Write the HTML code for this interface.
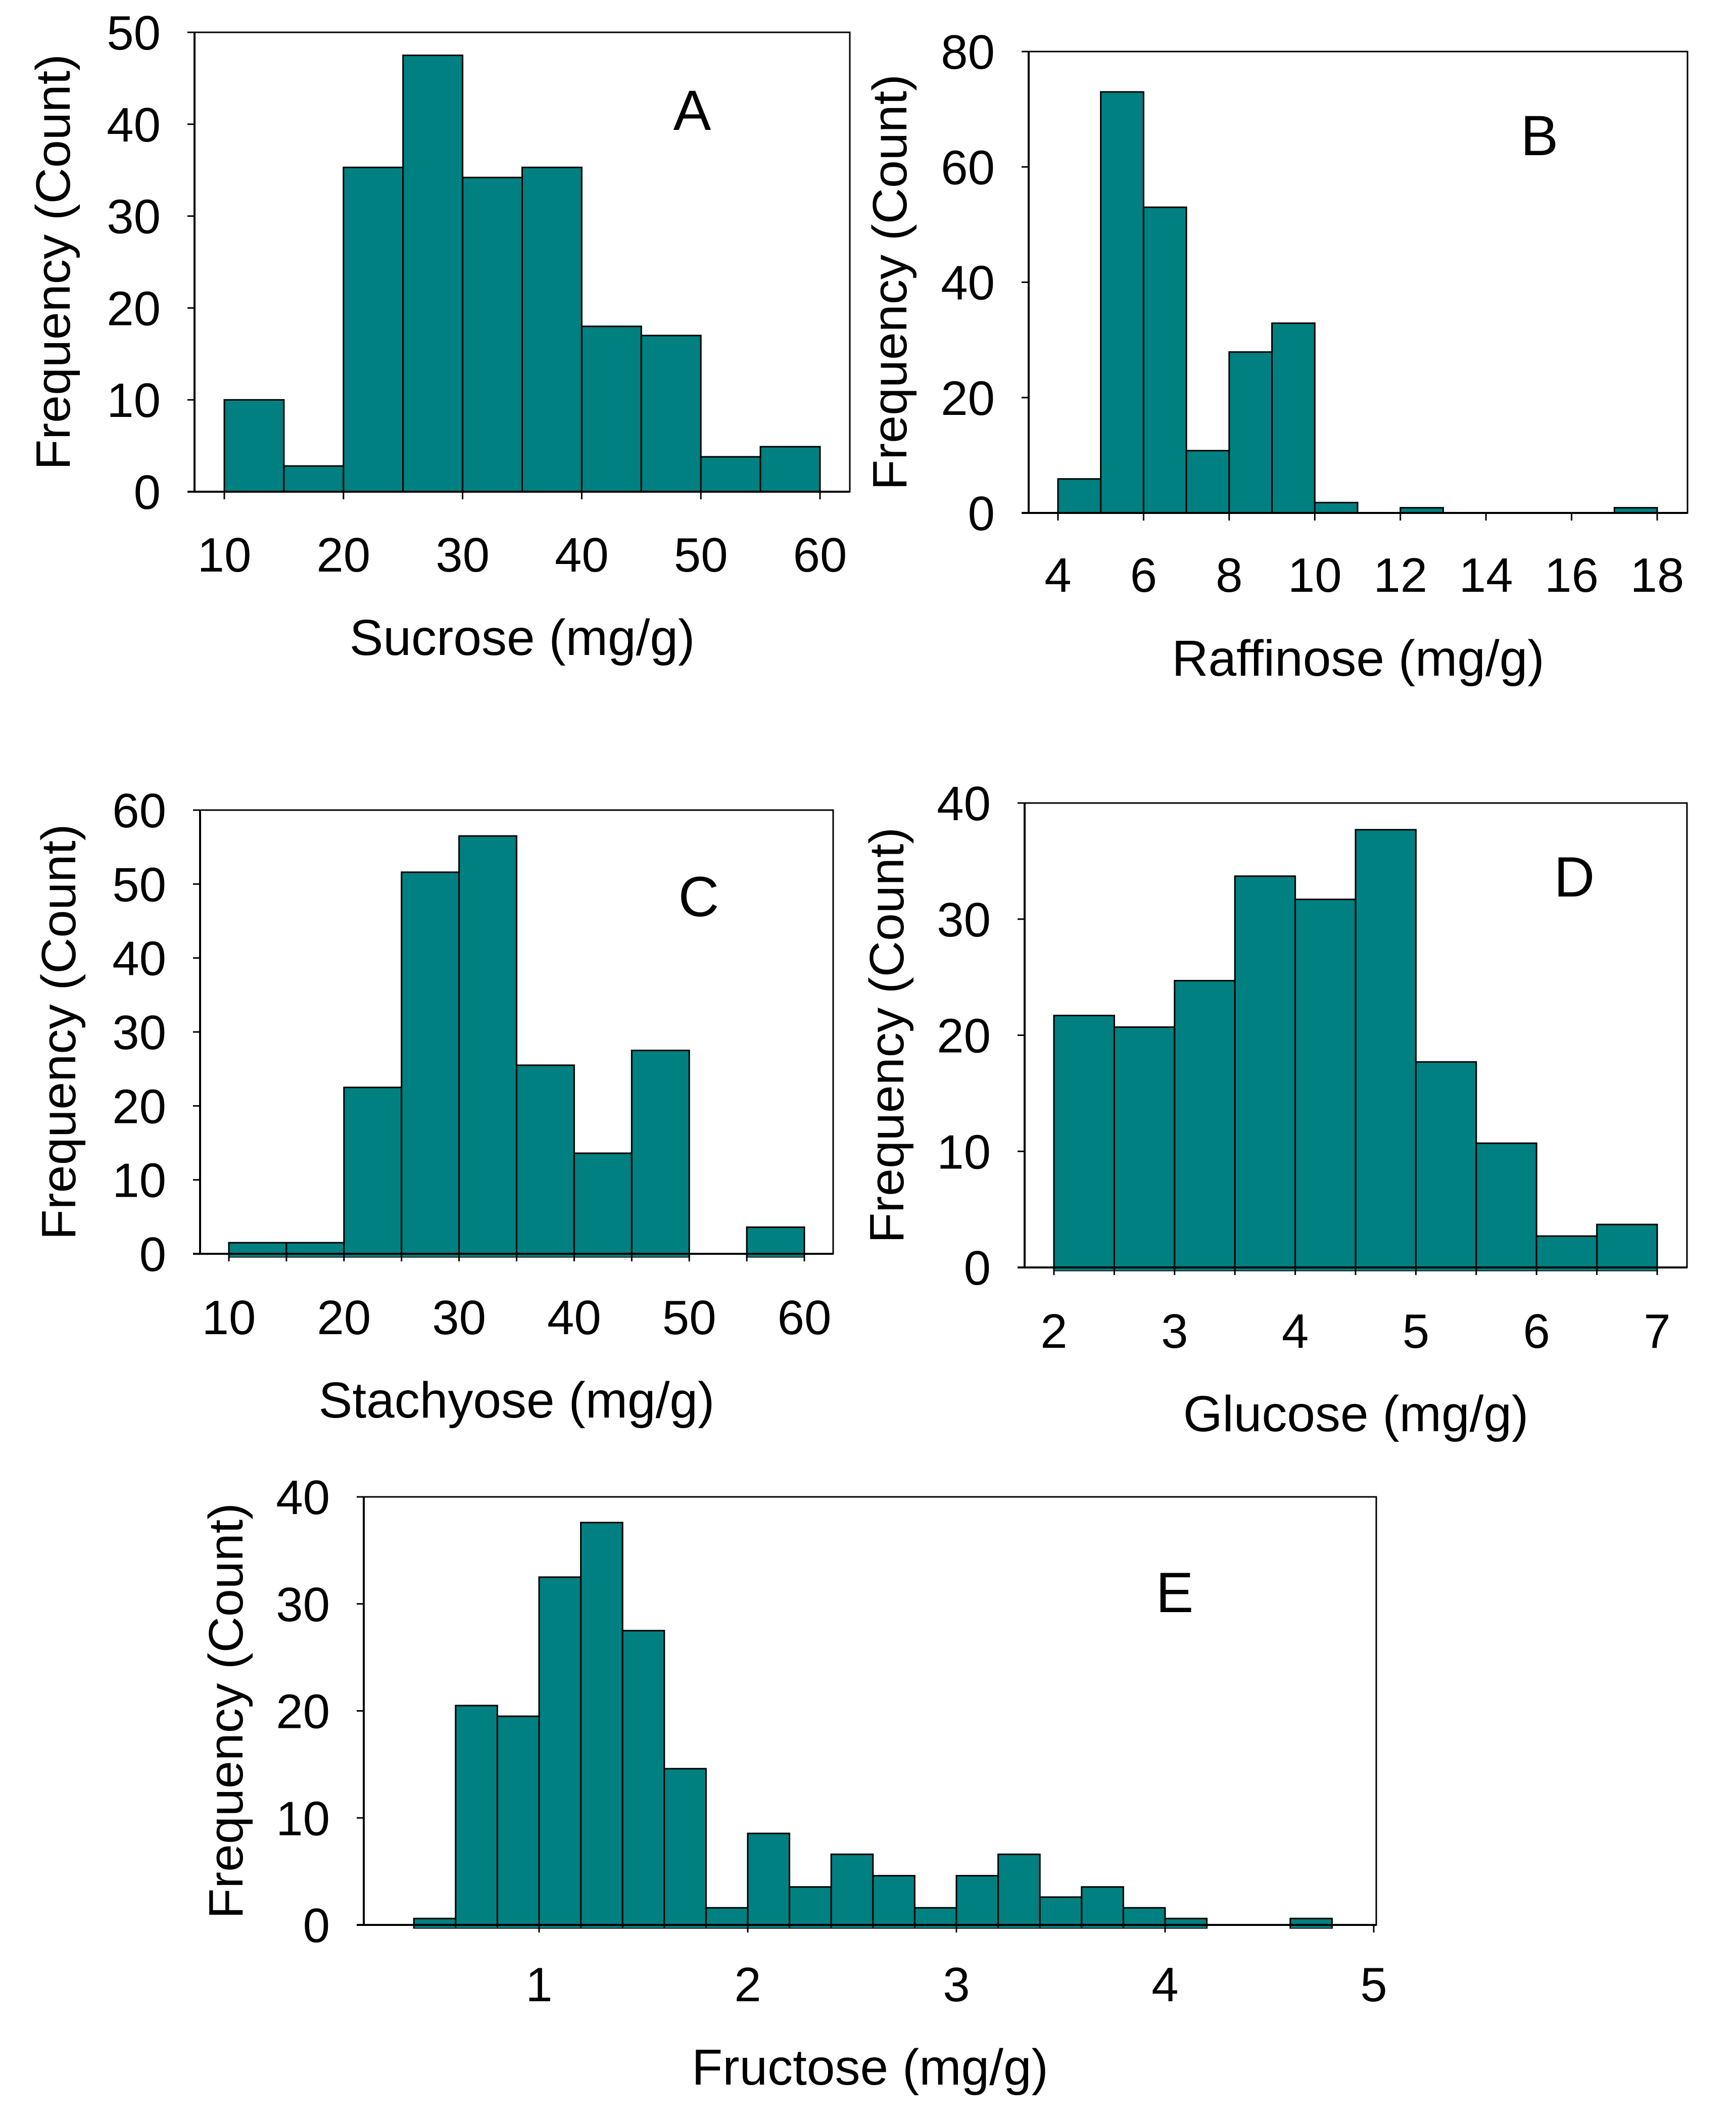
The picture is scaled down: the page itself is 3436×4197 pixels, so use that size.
<!DOCTYPE html>
<html><head><meta charset="utf-8"><title>Sugar histograms</title>
<style>
html,body{margin:0;padding:0;background:#fff;}
svg{display:block;}
text{font-family:"Liberation Sans",Arial,sans-serif;fill:#000;}
</style></head>
<body>
<svg id="fig" width="3436" height="4197" viewBox="0 0 3436 4197" xmlns="http://www.w3.org/2000/svg"></svg>
<script>
// Panel A: Sucrose
const sucroseBinStarts = [10,15,20,25,30,35,40,45,50,55];
const sucroseCounts = [10,2.8,35.3,47.5,34.2,35.3,18,17,3.8,4.9];
const sucroseXTicks = [10,20,30,40,50,60];
const sucroseYTicks = [0,10,20,30,40,50];
// Panel B: Raffinose
const raffinoseBinStarts = [4,5,6,7,8,9,10,11,12,13,14,15,16,17];
const raffinoseCounts = [5.9,73,53,10.8,27.9,32.9,1.8,0,0.9,0,0,0,0,0.9];
const raffinoseXTicks = [4,6,8,10,12,14,16,18];
const raffinoseYTicks = [0,20,40,60,80];
// Panel C: Stachyose
const stachyoseBinStarts = [10,15,20,25,30,35,40,45,50,55];
const stachyoseCounts = [1.5,1.5,22.5,51.6,56.5,25.5,13.6,27.5,0,3.6];
const stachyoseXTicks = [10,20,30,40,50,60];
const stachyoseYTicks = [0,10,20,30,40,50,60];
// Panel D: Glucose
const glucoseBinStarts = [2,2.5,3,3.5,4,4.5,5,5.5,6,6.5];
const glucoseCounts = [21.7,20.7,24.7,33.7,31.7,37.7,17.7,10.7,2.7,3.7];
const glucoseXTicks = [2,3,4,5,6,7];
const glucoseYTicks = [0,10,20,30,40];
// Panel E: Fructose
const fructoseBinStarts = [0.4,0.6,0.8,1.0,1.2,1.4,1.6,1.8,2.0,2.2,2.4,2.6,2.8,3.0,3.2,3.4,3.6,3.8,4.0,4.2,4.4,4.6];
const fructoseCounts = [0.6,20.5,19.5,32.5,37.6,27.5,14.6,1.6,8.55,3.55,6.6,4.6,1.6,4.6,6.6,2.6,3.55,1.6,0.6,0,0,0.6];
const fructoseXTicks = [1,2,3,4,5];
const fructoseYTicks = [0,10,20,30,40];

const NS = "http://www.w3.org/2000/svg";
const fig = document.getElementById('fig');
function mk(tag, attrs, parent){
  const e = document.createElementNS(NS, tag);
  for (const k in attrs) e.setAttribute(k, attrs[k]);
  parent.appendChild(e);
  return e;
}

function panel(cfg, binStarts, counts, binW, xTicks, yTicks){
  const g = mk('g', {}, fig);
  
  
  const xs = v => cfg.x0px + (v - cfg.x0) * (cfg.x1px - cfg.x0px) / (cfg.x1 - cfg.x0);
  const ys = v => cfg.bottom - v * (cfg.bottom - cfg.top) / cfg.ymax;
  const frame = mk('rect', {x:cfg.left, y:cfg.top, width:cfg.right-cfg.left, height:cfg.bottom-cfg.top, fill:'none', stroke:'#000', 'stroke-width':3}, g);
  
  
  for (let i = 0; i < counts.length; i++){
    if (counts[i] <= 0) continue;
    const x = xs(binStarts[i]), x2 = xs(binStarts[i] + binW);
    const y = ys(counts[i]);
    const b = mk('rect', {x:x, y:y, width:x2-x, height:cfg.bottom - y + cfg.under, fill:'#008080', stroke:'#000', 'stroke-width':3}, g);
    
    
  }
  if (cfg.under > 0){
    for (let i = 0; i < counts.length; i++){
      if (counts[i] <= 0) continue;
      const x = xs(binStarts[i]), x2 = xs(binStarts[i] + binW);
      const s = mk('rect', {x:x+1.5, y:cfg.bottom, width:x2-x-3, height:cfg.under, fill:'#008080'}, g);
      
      
    }
  }
  const ax = mk('line', {x1:cfg.left-14, y1:cfg.bottom, x2:cfg.right, y2:cfg.bottom, stroke:'#000', 'stroke-width':4}, g);
  
  
  const ay = mk('line', {x1:cfg.left, y1:cfg.top, x2:cfg.left, y2:cfg.bottom, stroke:'#000', 'stroke-width':4}, g);
  
  
  const tickPos = cfg.edgeTicks ? binStarts.concat([binStarts[binStarts.length-1] + binW]) : xTicks;
  for (const e of tickPos){
    const t = mk('line', {x1:xs(e), y1:cfg.bottom, x2:xs(e), y2:cfg.bottom+15, stroke:'#000', 'stroke-width':3}, g);
    
    
  }
  for (const v of xTicks){
    const t = mk('text', {x:xs(v), y:cfg.tickBase, 'font-size':96, 'text-anchor':'middle'}, g);
    t.textContent = String(v);
    
    
  }
  for (const v of yTicks){
    const t = mk('line', {x1:cfg.left-14, y1:ys(v), x2:cfg.left, y2:ys(v), stroke:'#000', 'stroke-width':3}, g);
    
    
    const l = mk('text', {x:cfg.left-67, y:ys(v)+34, 'font-size':96, 'text-anchor':'end'}, g);
    l.textContent = String(v);
    
    
  }
  const xt = mk('text', {x:(cfg.left+cfg.right)/2, y:cfg.titleBase, 'font-size':100, 'text-anchor':'middle'}, g);
  xt.textContent = cfg.xTitle;
  
  
  const cy = (cfg.top + cfg.bottom)/2;
  const yt = mk('text', {x:cfg.yTitleX, y:cy, 'font-size':96, 'text-anchor':'middle', transform:'rotate(-90 '+cfg.yTitleX+' '+cy+')', textLength:823, lengthAdjust:'spacingAndGlyphs', dy:34}, g);
  yt.textContent = 'Frequency (Count)';
  
  
  const pl = mk('text', {x:cfg.letterX, y:cfg.letterY, 'font-size':112, 'text-anchor':'middle'}, g);
  pl.textContent = cfg.letter;
  
  
}

panel({id:'sucrose', left:385, right:1682, top:64, bottom:973, x0:10, x1:60, x0px:444, x1px:1623, ymax:50, edgeTicks:false,
  tickBase:1131, titleBase:1296, xTitle:'Sucrose (mg/g)', yTitleX:104, letter:'A', letterX:1370, letterY:257, under:0},
  sucroseBinStarts, sucroseCounts, 5, sucroseXTicks, sucroseYTicks);
panel({id:'raffinose', left:2036, right:3340, top:102, bottom:1015, x0:4, x1:18, x0px:2094, x1px:3280, ymax:80, edgeTicks:false,
  tickBase:1171, titleBase:1337, xTitle:'Raffinose (mg/g)', yTitleX:1760, letter:'B', letterX:3047, letterY:307, under:0},
  raffinoseBinStarts, raffinoseCounts, 1, raffinoseXTicks, raffinoseYTicks);
panel({id:'stachyose', left:396, right:1649, top:1603, bottom:2481, x0:10, x1:60, x0px:453, x1px:1592, ymax:60, edgeTicks:true,
  tickBase:2640, titleBase:2805, xTitle:'Stachyose (mg/g)', yTitleX:115, letter:'C', letterX:1383, letterY:1813, under:6},
  stachyoseBinStarts, stachyoseCounts, 5, stachyoseXTicks, stachyoseYTicks);
panel({id:'glucose', left:2028, right:3339, top:1589, bottom:2508, x0:2, x1:7, x0px:2086, x1px:3280, ymax:40, edgeTicks:true,
  tickBase:2667, titleBase:2832, xTitle:'Glucose (mg/g)', yTitleX:1754, letter:'D', letterX:3116, letterY:1774, under:6},
  glucoseBinStarts, glucoseCounts, 0.5, glucoseXTicks, glucoseYTicks);
panel({id:'fructose', left:720, right:2724, top:2962, bottom:3809, x0:1, x1:5, x0px:1067, x1px:2719, ymax:40, edgeTicks:false,
  tickBase:3960, titleBase:4125, xTitle:'Fructose (mg/g)', yTitleX:446, letter:'E', letterX:2325, letterY:3190, under:6},
  fructoseBinStarts, fructoseCounts, 0.2, fructoseXTicks, fructoseYTicks);
</script>
</body></html>
